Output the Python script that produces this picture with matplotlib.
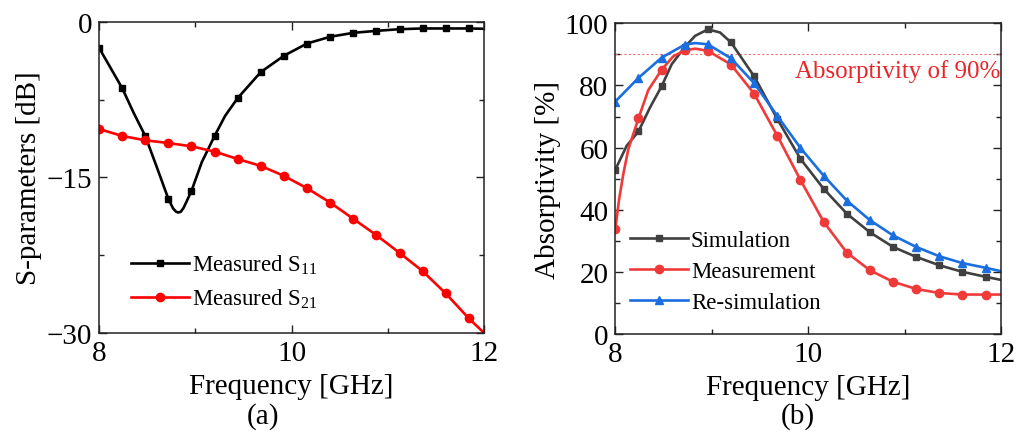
import matplotlib
matplotlib.use("Agg")
import matplotlib.pyplot as plt
import numpy as np

plt.rcParams['font.family'] = ['Liberation Serif', 'DejaVu Serif']
plt.rcParams['mathtext.fontset'] = 'custom'
plt.rcParams['mathtext.rm'] = 'Liberation Serif'
plt.rcParams['mathtext.default'] = 'regular'

# ---------------- data (a) ----------------
s11_freq = [8.00, 8.24, 8.357, 8.48, 8.60, 8.72, 8.77, 8.80, 8.824, 8.85, 8.88, 8.96, 9.067, 9.20,
            9.31, 9.44, 9.68, 9.92, 10.16, 10.40, 10.64, 10.88, 11.12, 11.36, 11.60, 11.84, 12.00]
s11_db = [-2.5, -6.38, -8.72, -11.0, -14.0, -17.07, -18.0, -18.3, -18.38, -18.3, -17.9, -16.3,
          -13.53, -11.0, -9.05, -7.35, -4.84, -3.27, -2.09, -1.44, -1.06, -0.87, -0.71, -0.64,
          -0.64, -0.64, -0.67]

s21_freq = [8.00, 8.24, 8.48, 8.72, 8.96, 9.20, 9.44, 9.68, 9.92, 10.16, 10.40, 10.64,
            10.88, 11.12, 11.36, 11.60, 11.84, 12.00]
s21_db = [-10.33, -11.0, -11.42, -11.68, -12.0, -12.51, -13.22, -13.89, -14.85, -16.04,
          -17.42, -18.99, -20.56, -22.27, -24.03, -26.18, -28.59, -30.0]

# ---------------- data (b) ----------------
sim_freq = [8.00, 8.118, 8.24, 8.36, 8.48, 8.585, 8.72, 8.827, 8.96, 9.086, 9.20, 9.44, 9.68,
            9.92, 10.16, 10.40, 10.64, 10.88, 11.12, 11.36, 11.60, 11.84, 12.00]
sim_abs = [52.9, 60.6, 65.2, 72.9, 79.7, 86.8, 92.3, 95.9, 98.0, 97.0, 93.8, 82.9, 69.2,
           56.4, 46.8, 38.8, 32.8, 28.1, 24.9, 22.2, 20.1, 18.5, 17.5]

meas_freq = [8.00, 8.04, 8.083, 8.135, 8.24, 8.342, 8.48, 8.60, 8.72, 8.83, 8.96, 9.20, 9.44, 9.68,
             9.92, 10.16, 10.40, 10.64, 10.88, 11.12, 11.36, 11.60, 11.84, 12.00]
meas_abs = [33.8, 43.5, 51.5, 59.5, 69.4, 78.5, 85.0, 89.3, 91.3, 91.8, 91.1, 86.7, 77.3, 63.8,
            49.6, 36.2, 26.3, 20.6, 16.9, 14.6, 13.3, 12.8, 12.8, 12.8]

resim_freq = [8.00, 8.24, 8.48, 8.72, 8.83, 8.96, 9.20, 9.44, 9.68, 9.92, 10.16, 10.40, 10.64,
              10.88, 11.12, 11.36, 11.60, 11.84, 12.00]
resim_abs = [74.8, 82.4, 88.9, 93.1, 93.6, 93.2, 88.7, 80.7, 70.2, 59.9, 51.0, 43.0, 36.7,
             31.8, 28.1, 25.1, 22.9, 21.4, 20.3]

threshold = 90

def marker_idx(freqs):
    idx = []
    for i, f in enumerate(freqs):
        k = (f - 8.0) / 0.24
        if abs(k - round(k)) < 1e-6 and f < 11.95:
            idx.append(i)
    return idx

fig = plt.figure(figsize=(10.26, 4.39), dpi=100)
ax1 = fig.add_axes([0.0965, 0.239, 0.3755, 0.709])
ax2 = fig.add_axes([0.5997, 0.236, 0.3760, 0.709])

FS = 21
LFS = 16.5
spine_c = '#222222'

def style(ax):
    for s in ax.spines.values():
        s.set_color(spine_c)
        s.set_linewidth(1.1)
    ax.tick_params(which='both', direction='in', top=True, right=True,
                   color=spine_c, width=1.0, labelsize=FS)
    ax.tick_params(which='major', length=6, pad=5)
    ax.tick_params(which='minor', length=3.5)

# Panel (a)
ax1.plot(s11_freq, s11_db, color='black', lw=1.9, marker='s', ms=5,
         markevery=marker_idx(s11_freq), label='Measured S$_{11}$')
ax1.plot(s21_freq, s21_db, color='#ff0000', lw=1.9, marker='o', ms=6,
         markevery=marker_idx(s21_freq), label='Measured S$_{21}$')
ax1.set_xlim(8, 12)
ax1.set_ylim(-30, 0)
ax1.set_xticks([8, 10, 12])
ax1.set_xticks([9, 11], minor=True)
ax1.set_yticks([-30, -15, 0])
ax1.set_yticks([-22.5, -7.5], minor=True)
style(ax1)
ax1.set_xlabel('Frequency [GHz]', fontsize=FS, labelpad=5)
ax1.set_ylabel('S-parameters [dB]', fontsize=FS, labelpad=3)
ax1.legend(loc='lower left', bbox_to_anchor=(0.06, 0.045), frameon=False, fontsize=LFS,
           handlelength=2.5, handletextpad=0.15, labelspacing=0.45, borderaxespad=0)

# Panel (b)
c_sim, c_meas, c_resim = '#404040', '#f03a3a', '#1a6ee0'
ax2.axhline(threshold, color='#f07070', lw=0.8, ls=(0, (2, 2)))
ax2.plot(sim_freq, sim_abs, color=c_sim, lw=1.9, marker='s', ms=5,
         markevery=marker_idx(sim_freq), label='Simulation')
ax2.plot(meas_freq, meas_abs, color=c_meas, lw=1.9, marker='o', ms=6,
         markevery=marker_idx(meas_freq), label='Measurement')
ax2.plot(resim_freq, resim_abs, color=c_resim, lw=1.9, marker='^', ms=6,
         markevery=marker_idx(resim_freq), label='Re-simulation')
ax2.set_xlim(8, 12)
ax2.set_ylim(0, 100)
ax2.set_xticks([8, 10, 12])
ax2.set_xticks([9, 11], minor=True)
ax2.set_yticks([0, 20, 40, 60, 80, 100])
ax2.set_yticks([10, 30, 50, 70, 90], minor=True)
style(ax2)
ax2.set_xlabel('Frequency [GHz]', fontsize=FS, labelpad=5)
ax2.set_ylabel('Absorptivity [%]', fontsize=FS, labelpad=3)
ax2.text(11.99, 84.7, 'Absorptivity of 90%', color='#e8262a', fontsize=18,
         ha='right', va='center')
ax2.legend(loc='lower left', bbox_to_anchor=(0.015, 0.04), frameon=False, fontsize=LFS,
           handlelength=2.5, handletextpad=0.15, labelspacing=0.42, borderaxespad=0)

fig.text(263 / 1026, 1 - 417 / 439, '(a)', fontsize=FS, ha='center', va='center')
fig.text(798 / 1026, 1 - 417 / 439, '(b)', fontsize=FS, ha='center', va='center')

fig.savefig('out.png', dpi=100)
